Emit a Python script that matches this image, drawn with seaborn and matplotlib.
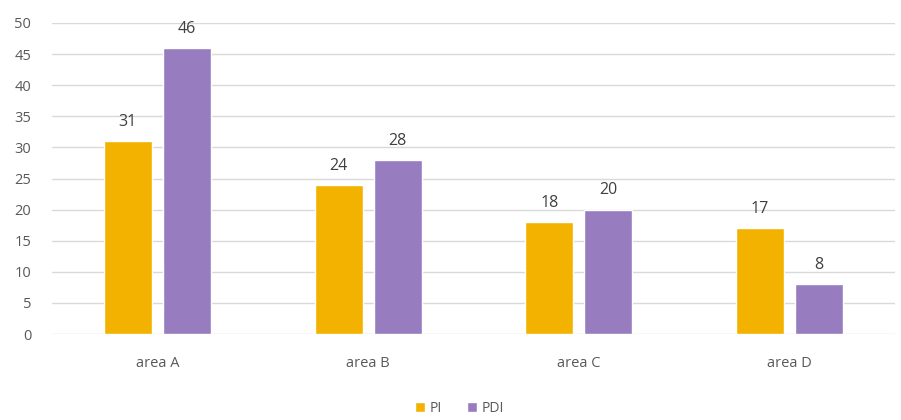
import matplotlib
matplotlib.use("Agg")
import matplotlib.pyplot as plt
import seaborn as sns
import pandas as pd
from matplotlib.patches import Patch

categories = ["area A", "area B", "area C", "area D"]
series_names = ["PI", "PDI"]
pi_values = [31, 24, 18, 17]
pdi_values = [46, 28, 20, 8]
y_ticks = [0, 5, 10, 15, 20, 25, 30, 35, 40, 45, 50]

colors = {"PI": "#F3B200", "PDI": "#977DBF"}
text_color = "#595959"
grid_color = "#D9D9D9"

df = pd.DataFrame({
    "area": categories * 2,
    "series": ["PI"] * len(categories) + ["PDI"] * len(categories),
    "value": pi_values + pdi_values,
})

sns.set_style("white")
plt.rcParams["font.family"] = ["Open Sans", "DejaVu Sans"]

fig = plt.figure(figsize=(9.01, 4.2), dpi=100)
ax = fig.add_axes([52 / 901, 86 / 420, 843 / 901, 311 / 420])

sns.barplot(data=df, x="area", y="value", hue="series", hue_order=series_names,
            palette=colors, width=0.56, gap=0.19, ax=ax, legend=False,
            saturation=1, errorbar=None)

ax.set_ylim(0, 50)
ax.set_xlim(-0.5, len(categories) - 0.5)
ax.set_yticks(y_ticks)
ax.yaxis.grid(True, color=grid_color, linewidth=1)
ax.set_axisbelow(True)
for s in ax.spines.values():
    s.set_visible(False)
ax.set_xlabel("")
ax.set_ylabel("")
ax.tick_params(axis="both", length=0, labelsize=10.5, colors=text_color)
ax.tick_params(axis="y", pad=15)
ax.tick_params(axis="x", pad=16)

for cont in ax.containers:
    ax.bar_label(cont, fmt="%d", padding=8, fontsize=11.5, color="#404040")

handles = [Patch(facecolor=colors[n], label=n) for n in series_names]
fig.legend(handles=handles, loc="center", bbox_to_anchor=(0.51, 12 / 420),
           ncol=2, frameon=False, fontsize=10, labelcolor=text_color,
           handlelength=0.7, handleheight=0.7, handletextpad=0.35,
           columnspacing=1.8)

fig.savefig("out.png", dpi=100)
